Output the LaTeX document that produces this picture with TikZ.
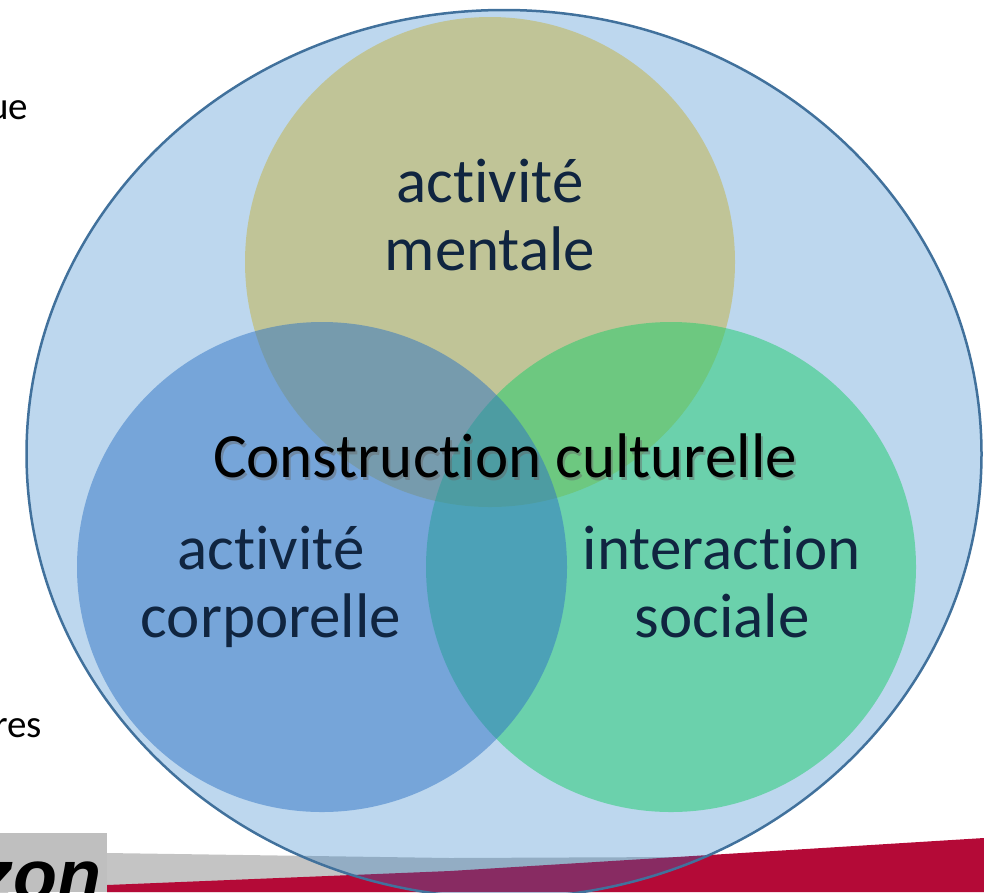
\documentclass[tikz,border=0pt]{standalone}
\usepackage{fontspec}
\setmainfont{Carlito}[Ligatures=NoCommon]
\newfontfamily\arialfont{Liberation Sans}
\usetikzlibrary{positioning}

\definecolor{fondbleu}{RGB}{35,122,198}
\definecolor{traitbleu}{RGB}{65,113,156}
\definecolor{colmentale}{RGB}{195,179,66}
\definecolor{colsociale}{RGB}{27,203,106}
\definecolor{colcorps}{RGB}{47,115,196}
\definecolor{texte}{RGB}{16,37,64}
\definecolor{rouge}{RGB}{180,10,55}
\definecolor{grisbande}{RGB}{196,196,196}
\definecolor{grisboite}{RGB}{191,191,191}

\begin{document}
\begin{tikzpicture}[x=1pt,y=-1pt,thin]
\tikzstyle{every node}=[inner sep=0pt,outer sep=0pt]
\tikzstyle{lab}=[text=texte,align=center,anchor=base,font=\fontsize{63}{68}\selectfont]
\tikzstyle{bord}=[text=black,anchor=base east,font=\fontsize{39}{46}\selectfont]
\tikzstyle{disque}=[opacity=0.5]

\useasboundingbox (0,0) rectangle (984,892);
\clip (0,0) rectangle (984,892);

% bande du bas
\fill[grisbande] (107,853) -- (450,858) -- (680,857) -- (680,892) -- (107,892) -- cycle;
\fill[rouge] (107,885) -- (450,871) -- (984,838) -- (984,892) -- (107,892) -- cycle;
\fill[grisboite] (0,833) rectangle (107,892);
\node[anchor=base east,font=\arialfont\bfseries\itshape\fontsize{72}{80}\selectfont] (Z) at (101,900) {zon};

% texte coupe a gauche
\node[bord] (U) at (28,119) {ue};
\node[bord] (R) at (42,737) {res};

% grand cercle
\fill[fondbleu,opacity=0.3] (504,454) ellipse [x radius=477.5, y radius=444];
\draw[traitbleu,line width=2.5pt] (504,454) ellipse [x radius=477.5, y radius=444];

% les trois cercles
\fill[colmentale,disque] (490,262) circle (245);
\fill[colsociale,disque] (671,567) circle (245);
\fill[colcorps,disque] (322,567) circle (245);

\node[lab] (M) at (490,270) {activité\\mentale};
\node[lab] (K) at (271,637) {activité\\corporelle};
\node[lab] (S) at (722,637) {interaction\\sociale};

\node[lab,text=black!60,opacity=0.45] (C0) at (507,480) {Construction culturelle};
\node[lab,text=black] (C) at (505,477) {Construction culturelle};
\end{tikzpicture}
\end{document}
